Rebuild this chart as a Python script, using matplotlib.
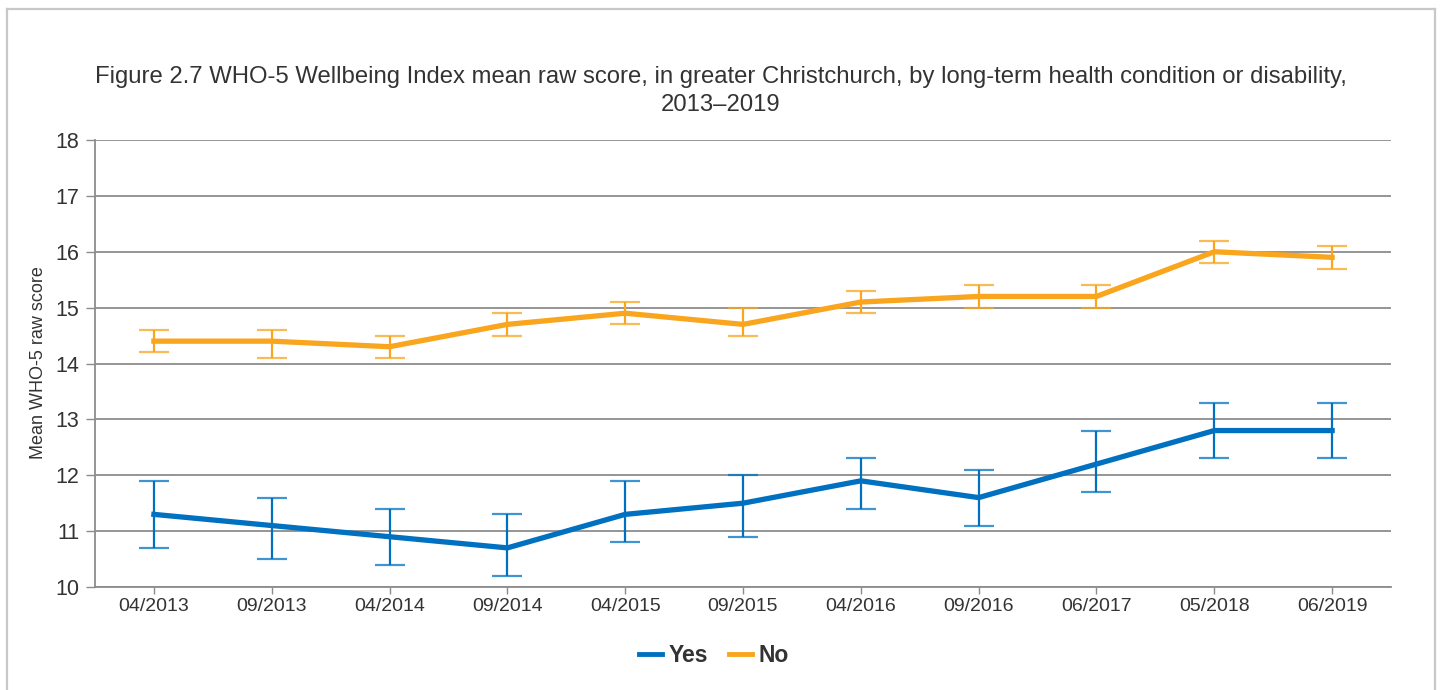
import matplotlib
matplotlib.use("Agg")
import matplotlib.pyplot as plt
from matplotlib.lines import Line2D

plt.rcParams['font.family'] = ['Liberation Sans', 'DejaVu Sans']

categories = ["04/2013", "09/2013", "04/2014", "09/2014", "04/2015", "09/2015",
              "04/2016", "09/2016", "06/2017", "05/2018", "06/2019"]
yes_mean = [11.3, 11.1, 10.9, 10.7, 11.3, 11.5, 11.9, 11.6, 12.2, 12.8, 12.8]
yes_low  = [10.7, 10.5, 10.4, 10.2, 10.8, 10.9, 11.4, 11.1, 11.7, 12.3, 12.3]
yes_high = [11.9, 11.6, 11.4, 11.3, 11.9, 12.0, 12.3, 12.1, 12.8, 13.3, 13.3]
no_mean  = [14.4, 14.4, 14.3, 14.7, 14.9, 14.7, 15.1, 15.2, 15.2, 16.0, 15.9]
no_low   = [14.2, 14.1, 14.1, 14.5, 14.7, 14.5, 14.9, 15.0, 15.0, 15.8, 15.7]
no_high  = [14.6, 14.6, 14.5, 14.9, 15.1, 15.0, 15.3, 15.4, 15.4, 16.2, 16.1]
y_ticks = [10, 11, 12, 13, 14, 15, 16, 17, 18]

title = ("Figure 2.7 WHO-5 Wellbeing Index mean raw score, in greater Christchurch, "
         "by long-term health condition or disability,\n2013\u20132019")
ylabel = "Mean WHO-5 raw score"

BLUE = "#0070C0"
ORANGE = "#F9A51E"
GRID = "#8c8c8c"
TEXT = "#333333"

W, H = 1442, 690
fig = plt.figure(figsize=(W / 100, H / 100), dpi=100)
ax = fig.add_axes([95 / W, 1 - 587 / H, (1391 - 95) / W, (587 - 140) / H])

x = list(range(len(categories)))

def draw(mean, low, high, color):
    err = [[m - l for m, l in zip(mean, low)], [h - m for m, h in zip(mean, high)]]
    ax.plot(x, mean, color=color, lw=3.8, solid_joinstyle='miter', zorder=3)
    eb = ax.errorbar(x, mean, yerr=err, fmt='none', ecolor=color, elinewidth=1.6,
                     capsize=11, capthick=1.6, zorder=4)
    for cap in eb[1]:
        cap.set_alpha(0.75)

draw(no_mean, no_low, no_high, ORANGE)
draw(yes_mean, yes_low, yes_high, BLUE)

ax.set_xlim(-0.5, len(categories) - 0.5)
ax.set_ylim(10, 18)
ax.set_yticks(y_ticks)
ax.set_xticks(x)
ax.set_xticklabels(categories)
ax.yaxis.grid(True, color=GRID, lw=1.3)
ax.set_axisbelow(True)
for s in ['top', 'right']:
    ax.spines[s].set_visible(False)
for s in ['left', 'bottom']:
    ax.spines[s].set_color(GRID)
    ax.spines[s].set_linewidth(1.3)
ax.tick_params(axis='x', length=5, width=1, color=GRID, labelsize=14, labelcolor=TEXT, pad=3)
ax.tick_params(axis='y', length=6.5, width=1, color=GRID, labelsize=15.5, labelcolor=TEXT, pad=5)

fig.text(721 / W, 1 - 91 / H, title, ha='center', va='center', fontsize=17.2,
         color=TEXT, linespacing=1.3)
fig.text(39 / W, 1 - 363 / H, ylabel, rotation=90, ha='center', va='center',
         fontsize=13, color=TEXT)

handles = [Line2D([], [], color=BLUE, lw=3.5), Line2D([], [], color=ORANGE, lw=3.5)]
fig.legend(handles, ["Yes", "No"], loc='center', bbox_to_anchor=(714 / W, 1 - 656 / H),
           ncol=2, frameon=False, handlelength=1.0, handletextpad=0.3, columnspacing=0.9,
           prop={'weight': 'bold', 'size': 16.5}, labelcolor=TEXT)

# outer border
bc = "#c8c8c8"
fig.add_artist(Line2D([7 / W, 7 / W], [0, 1 - 9 / H], color=bc, lw=1.6, transform=fig.transFigure))
fig.add_artist(Line2D([7 / W, 1435 / W], [1 - 9 / H, 1 - 9 / H], color=bc, lw=1.6, transform=fig.transFigure))
fig.add_artist(Line2D([1435 / W, 1435 / W], [0, 1 - 9 / H], color=bc, lw=1.6, transform=fig.transFigure))

fig.savefig("out.png", dpi=100, facecolor='white')
